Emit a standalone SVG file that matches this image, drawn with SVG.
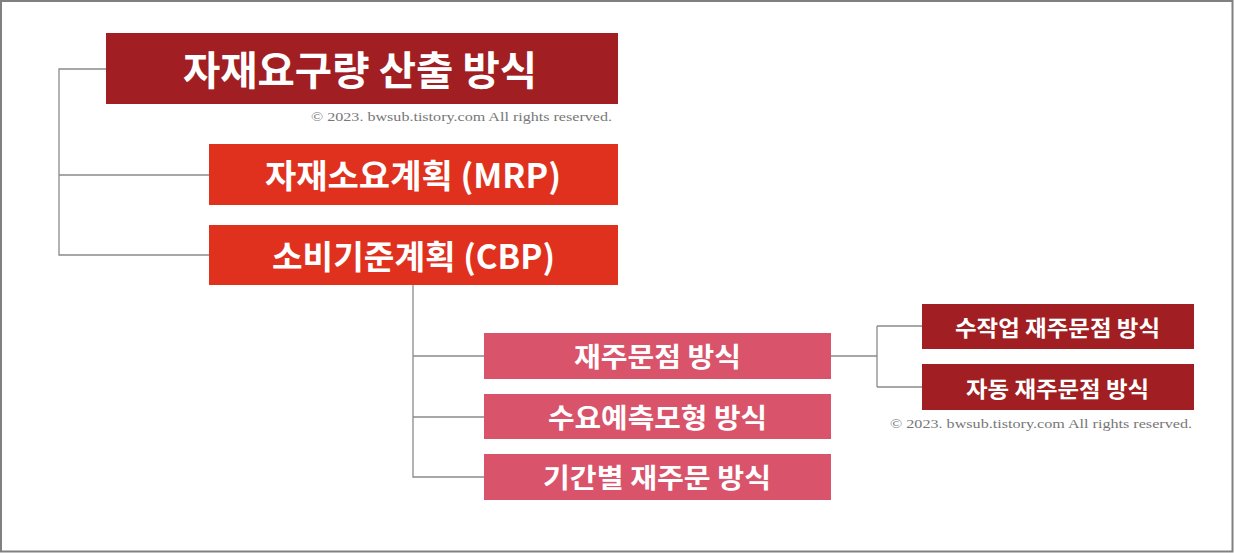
<svg xmlns="http://www.w3.org/2000/svg" width="1234" height="553" viewBox="0 0 1234 553">
<style>
.kr{font-family:"Noto Sans CJK KR","Noto Sans",sans-serif;font-weight:700;fill:#fff;text-anchor:middle;dominant-baseline:central}
.cp{font-family:"Liberation Serif","DejaVu Serif",serif;font-size:12px;fill:#777;text-anchor:end}
.ln{stroke:#8a8a8a;stroke-width:1.3;fill:none}
.dr{fill:#A11F22}.rd{fill:#E0311F}.pk{fill:#D9536A}
</style>
<rect x="0" y="0" width="1234" height="553" fill="#fff"/>
<rect x="1" y="1" width="1231.5" height="550.5" fill="none" stroke="#808080" stroke-width="2"/>
<g id="connectors">
<path class="ln" d="M106,69H59V255H209M59,175H209"/>
<path class="ln" d="M413,285V477H484M413,356H484M413,417H484"/>
<path class="ln" d="M831,356H877M877,326V387M877,326H922M877,387H922"/>
</g>
<g id="n-root"><rect class="dr" x="106" y="33" width="512" height="71"/><text class="kr" x="360" y="68" font-size="40" textLength="354" lengthAdjust="spacingAndGlyphs">자재요구량 산출 방식</text></g>
<g id="cp1"><text class="cp" x="612" y="121" textLength="301" lengthAdjust="spacingAndGlyphs">© 2023. bwsub.tistory.com All rights reserved.</text></g>
<g id="n-mrp"><rect class="rd" x="209" y="144" width="409" height="61"/><text class="kr" x="413" y="174" font-size="33" textLength="296" lengthAdjust="spacingAndGlyphs">자재소요계획 (MRP)</text></g>
<g id="n-cbp"><rect class="rd" x="209" y="225" width="409" height="60"/><text class="kr" x="413.5" y="255" font-size="33" textLength="283" lengthAdjust="spacingAndGlyphs">소비기준계획 (CBP)</text></g>
<g id="n-rop"><rect class="pk" x="484" y="333" width="347" height="46"/><text class="kr" x="657.5" y="355.5" font-size="27" textLength="167" lengthAdjust="spacingAndGlyphs">재주문점 방식</text></g>
<g id="n-fc"><rect class="pk" x="484" y="394" width="347" height="45"/><text class="kr" x="657.5" y="416" font-size="27" textLength="219" lengthAdjust="spacingAndGlyphs">수요예측모형 방식</text></g>
<g id="n-per"><rect class="pk" x="484" y="454" width="347" height="46"/><text class="kr" x="657" y="476.5" font-size="27" textLength="228" lengthAdjust="spacingAndGlyphs">기간별 재주문 방식</text></g>
<g id="n-man"><rect class="dr" x="922" y="304" width="272" height="45"/><text class="kr" x="1057.5" y="326" font-size="22" textLength="205" lengthAdjust="spacingAndGlyphs">수작업 재주문점 방식</text></g>
<g id="n-auto"><rect class="dr" x="922" y="364" width="272" height="46"/><text class="kr" x="1057.5" y="386.5" font-size="22" textLength="183" lengthAdjust="spacingAndGlyphs">자동 재주문점 방식</text></g>
<g id="cp2"><text class="cp" x="1192" y="428" textLength="302" lengthAdjust="spacingAndGlyphs">© 2023. bwsub.tistory.com All rights reserved.</text></g>
</svg>
